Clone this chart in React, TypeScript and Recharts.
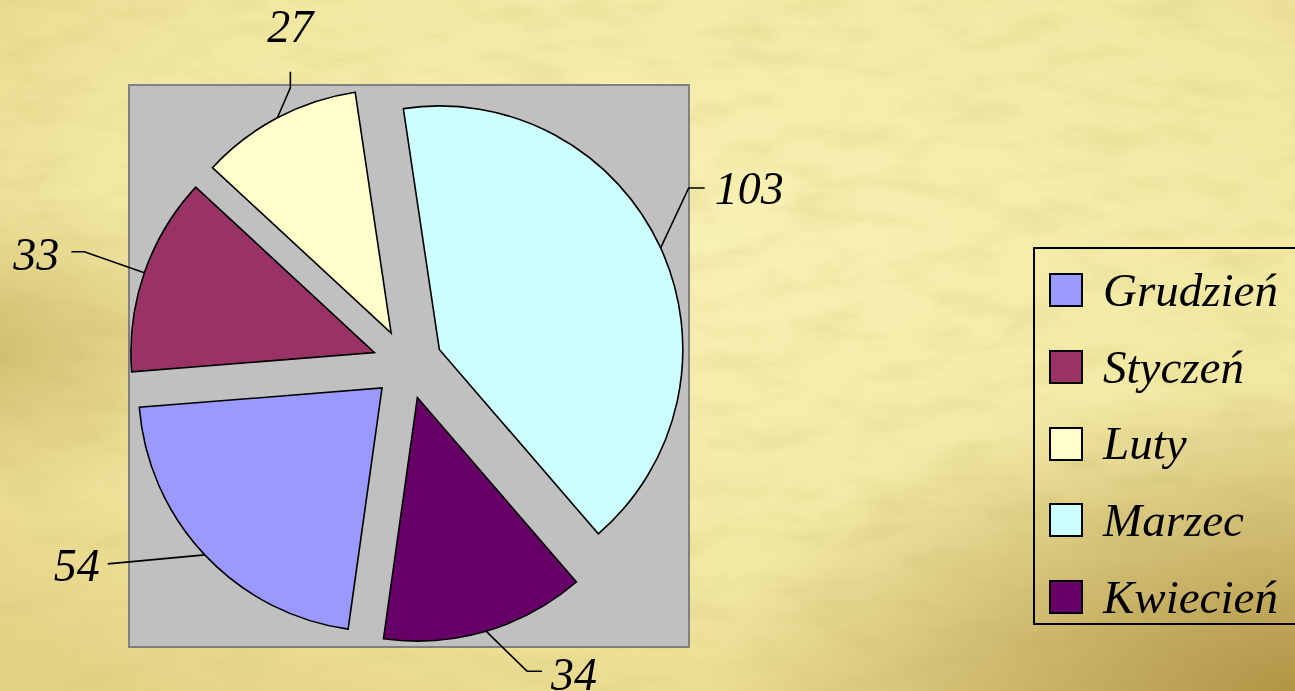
import React from 'react';
import { PieChart, Pie, Cell, Legend, Sector } from 'recharts';

// data
const months = ['Grudzień', 'Styczeń', 'Luty', 'Marzec', 'Kwiecień'];
const counts = [54, 33, 27, 103, 34];
const sliceColors = ['#9999ff', '#993366', '#ffffcc', '#ccffff', '#660066'];

const pieData = months.map((name, i) => ({ name, value: counts[i] }));

// layout
const W = 1295;
const H = 691;
const RAD = Math.PI / 180;
const EXPLODE = 35;
const serif = '"Liberation Serif", "DejaVu Serif", serif';

// leader lines: elbow offset from the slice arc, then a short tick, then text offset
const leaders = [
  { elbow: [-97, 9], tick: [0, 0], text: [-8, 2], anchor: 'end' },
  { elbow: [-60, -21], tick: [-13, 0], text: [-12, 3], anchor: 'end' },
  { elbow: [13, -30], tick: [0, -16], text: [0, -45], anchor: 'middle' },
  { elbow: [28, -60], tick: [16, 0], text: [10, 1], anchor: 'start' },
  { elbow: [41, 40], tick: [15, 0], text: [9, 3], anchor: 'start' },
];

const ExplodedSector = (props: any) => {
  const { cx, cy, midAngle } = props;
  const a = -midAngle * RAD;
  return (
    <Sector
      {...props}
      cx={cx + EXPLODE * Math.cos(a)}
      cy={cy + EXPLODE * Math.sin(a)}
    />
  );
};

const renderLabel = (props: any) => {
  const { cx, cy, midAngle, outerRadius, index, value } = props;
  const a = -midAngle * RAD;
  const r = outerRadius + EXPLODE;
  const ax = cx + r * Math.cos(a);
  const ay = cy + r * Math.sin(a);
  const l = leaders[index];
  const ex = ax + l.elbow[0];
  const ey = ay + l.elbow[1];
  const tx = ex + l.tick[0];
  const ty = ey + l.tick[1];
  return (
    <g>
      <polyline
        points={`${ax},${ay} ${ex},${ey} ${tx},${ty}`}
        fill="none"
        stroke="#000"
        strokeWidth={1.6}
      />
      <text
        x={tx + l.text[0]}
        y={ty + l.text[1]}
        textAnchor={l.anchor as any}
        dominantBaseline="central"
        fontFamily={serif}
        fontStyle="italic"
        fontSize={46}
        fill="#000"
      >
        {value}
      </text>
    </g>
  );
};

const LegendBox = ({ payload }: any) => {
  const items = [...(payload || [])].sort(
    (a: any, b: any) => months.indexOf(a.value) - months.indexOf(b.value)
  );
  return (
    <div
      style={{
        boxSizing: 'border-box',
        width: 300,
        height: 378,
        border: '2px solid #000',
        paddingTop: 3,
        paddingLeft: 14,
      }}
    >
      {items.map((p: any) => (
        <div key={p.value} style={{ height: 76.7, display: 'flex', alignItems: 'center' }}>
          <div
            style={{
              boxSizing: 'border-box',
              width: 34,
              height: 34,
              background: sliceColors[months.indexOf(p.value)] || p.color,
              border: '2px solid #000',
              marginRight: 20,
            }}
          />
          <span
            style={{
              fontFamily: serif,
              fontStyle: 'italic',
              fontSize: 47,
              lineHeight: 1,
              color: '#000',
            }}
          >
            {p.value}
          </span>
        </div>
      ))}
    </div>
  );
};

const Parchment = () => (
  <svg width={W} height={H} style={{ position: 'absolute', left: 0, top: 0 }}>
    <defs>
      <radialGradient id="paperBase" cx="0.55" cy="0.35" r="0.8">
        <stop offset="0" stopColor="#f8f1b4" />
        <stop offset="0.6" stopColor="#f2e8a2" />
        <stop offset="1" stopColor="#e4d284" />
      </radialGradient>
      <radialGradient id="cornerBR" cx="1" cy="1" r="0.45">
        <stop offset="0" stopColor="#a88a3c" stopOpacity={0.85} />
        <stop offset="1" stopColor="#a88a3c" stopOpacity={0} />
      </radialGradient>
      <radialGradient id="edgeL" cx="0" cy="0.5" r="0.22">
        <stop offset="0" stopColor="#b89c48" stopOpacity={0.5} />
        <stop offset="1" stopColor="#b89c48" stopOpacity={0} />
      </radialGradient>
      <filter id="mottle" x="0" y="0" width="100%" height="100%">
        <feTurbulence type="fractalNoise" baseFrequency="0.014 0.04" numOctaves={4} seed={7} />
        <feColorMatrix
          type="matrix"
          values="0 0 0 0 0.66  0 0 0 0 0.58  0 0 0 0 0.2  1.6 0 0 0 -0.72"
        />
      </filter>
    </defs>
    <rect width={W} height={H} fill="url(#paperBase)" />
    <rect width={W} height={H} filter="url(#mottle)" opacity={0.45} />
    <rect width={W} height={H} fill="url(#edgeL)" />
    <rect width={W} height={H} fill="url(#cornerBR)" />
    <rect x={129} y={85} width={560} height={562} fill="#c0c0c0" stroke="#808080" strokeWidth={2} />
  </svg>
);

export default function App() {
  return (
    <div style={{ position: 'fixed', left: 0, top: 0, width: W, height: H, overflow: 'hidden' }}>
      <Parchment />
      <div style={{ position: 'absolute', left: 0, top: 0 }}>
        <PieChart width={W} height={H} margin={{ top: 0, right: 0, bottom: 0, left: 0 }}>
          <Pie
            data={pieData}
            dataKey="value"
            nameKey="name"
            cx={407.5}
            cy={364}
            outerRadius={243.5}
            startAngle={-98}
            endAngle={-458}
            stroke="#000"
            strokeWidth={1.6}
            shape={ExplodedSector}
            label={renderLabel}
            labelLine={false}
            isAnimationActive={false}
          >
            {pieData.map((d, i) => (
              <Cell key={d.name} fill={sliceColors[i]} />
            ))}
          </Pie>
          <Legend
            layout="vertical"
            align="right"
            verticalAlign="middle"
            content={LegendBox}
            wrapperStyle={{ left: 1033, top: 247, width: 300, height: 378, right: 'auto', bottom: 'auto' }}
          />
        </PieChart>
      </div>
    </div>
  );
}
